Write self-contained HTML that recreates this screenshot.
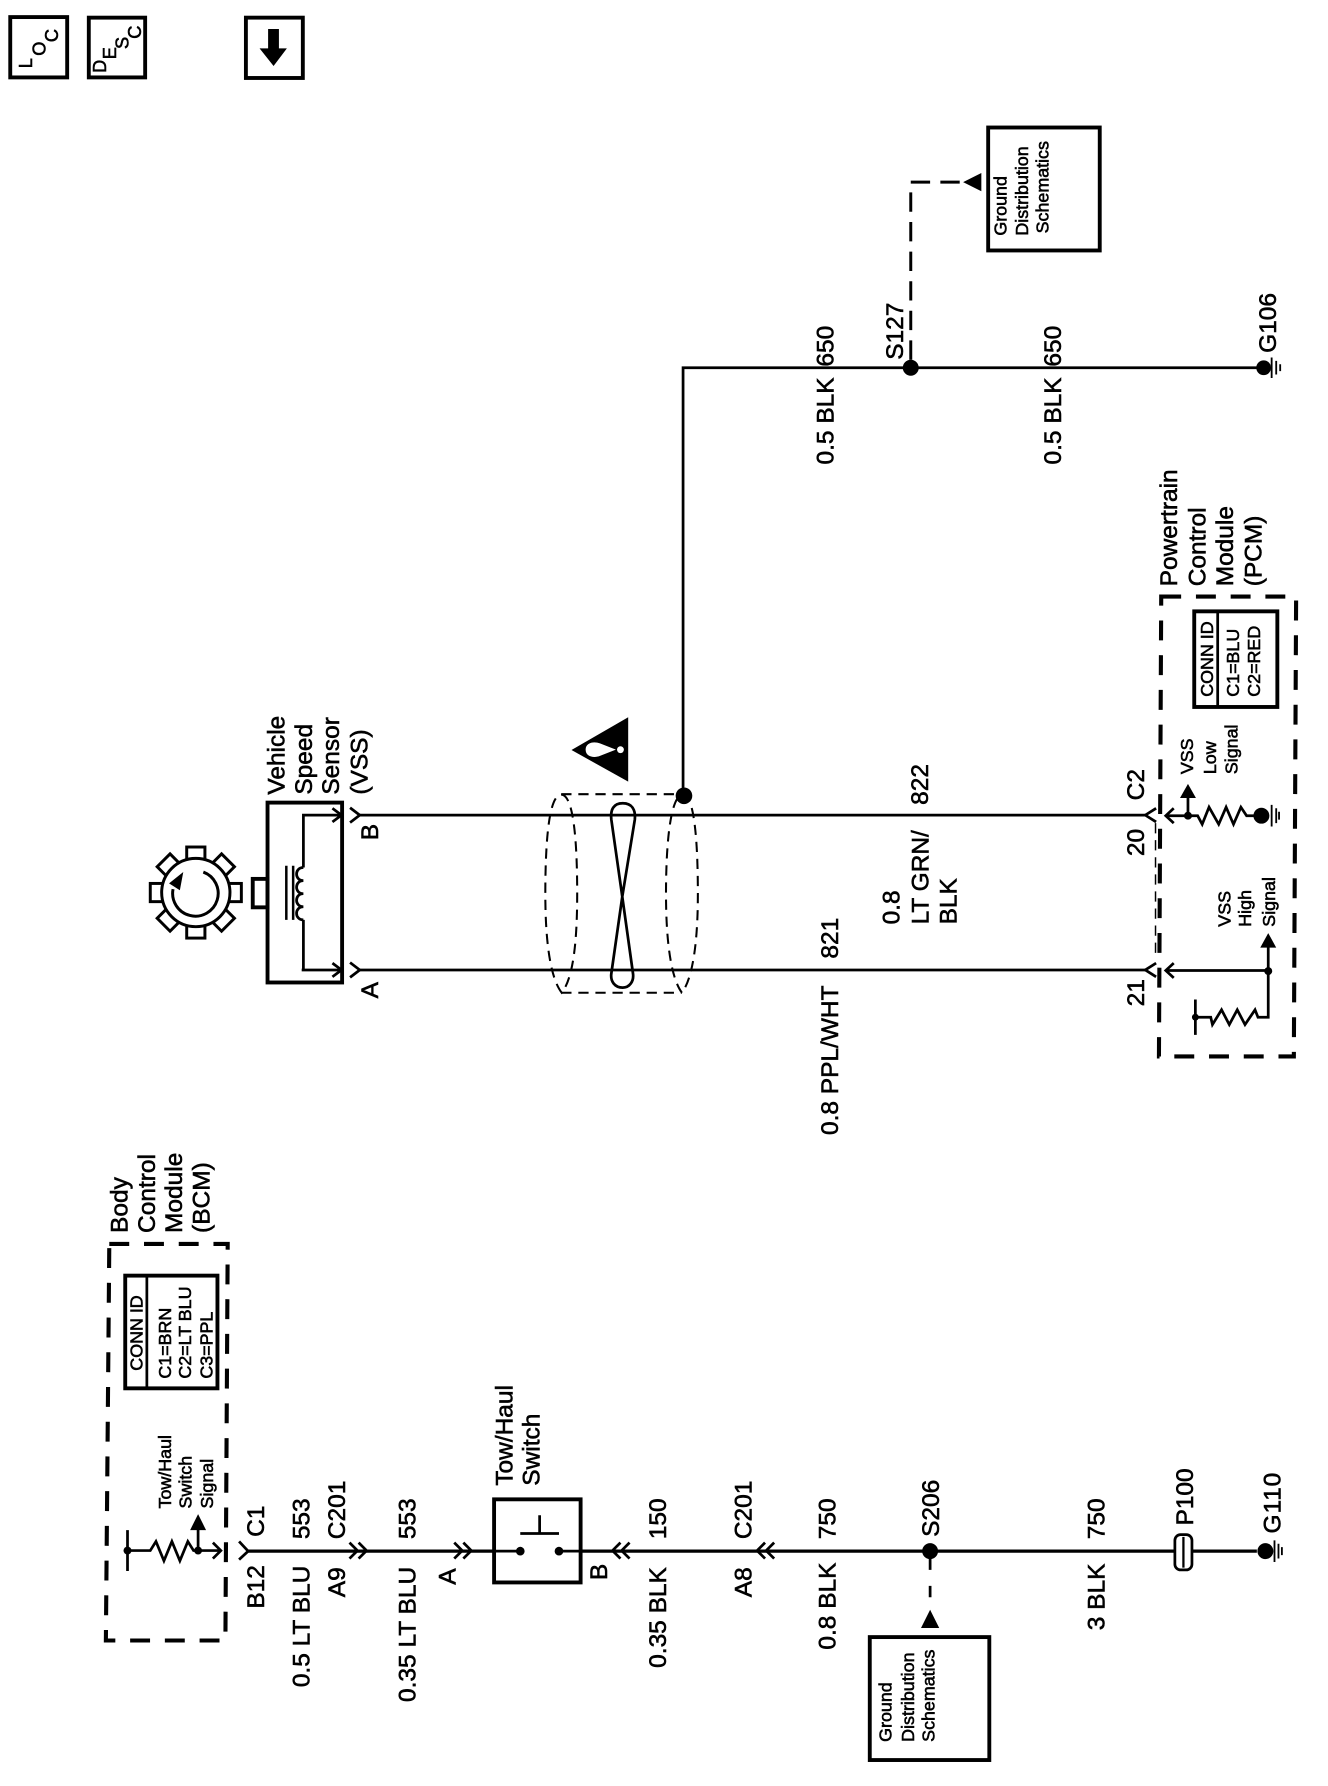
<!DOCTYPE html>
<html><head><meta charset="utf-8"><title>Vehicle Speed Sensor schematic</title>
<style>
html,body{margin:0;padding:0;background:#fff}
svg{display:block}
text{font-family:"Liberation Sans",sans-serif;fill:#000;stroke:#000;stroke-width:.5}
.t{font-size:21.5px}.s{font-size:15.7px}
.w{fill:none;stroke:#000;stroke-width:2.4}
.b{fill:none;stroke:#000;stroke-width:3.4}
.d{fill:none;stroke:#000;stroke-width:3.6;stroke-dasharray:17.5 13}
.e{fill:none;stroke:#000;stroke-width:1.8;stroke-dasharray:9 6}
.f{fill:#000;stroke:none}
</style></head><body>
<svg width="1328" height="1786" viewBox="0 0 1166.5 1568.8" xmlns="http://www.w3.org/2000/svg">
<rect width="1166.5" height="1568.8" fill="#fff"/>
<!-- top-left buttons -->
<rect class="b" x="9" y="15" width="50" height="53"/>
<rect class="b" x="78" y="15.500" width="49.500" height="52.500"/>
<rect class="b" x="216" y="15.500" width="50" height="53"/>
<g style="font-size:16px">
<text transform="rotate(-90 28 60)" x="28" y="60">L</text>
<text transform="rotate(-90 40 49)" x="40" y="49">O</text>
<text transform="rotate(-90 51 37)" x="51" y="37">C</text>
<text transform="rotate(-90 93 64)" x="93" y="64">D</text>
<text transform="rotate(-90 102 52)" x="102" y="52">E</text>
<text transform="rotate(-90 113 43)" x="113" y="43">S</text>
<text transform="rotate(-90 124 34)" x="124" y="34">C</text>
</g>
<path class="f" d="M235.500 25.500H245V42.500H252L240.300 58L228 42.500H235.500Z"/>

<!-- ground wire -->
<path class="w" d="M600 698V323H1108"/>
<circle class="f" cx="600.800" cy="699" r="7.300"/>
<circle class="f" cx="800" cy="323" r="7"/>
<circle class="f" cx="1110" cy="323" r="6.500"/>
<path class="w" style="stroke-width:1.600" d="M1117 314V332M1121 317V329M1124.500 320V326"/>
<path class="b" style="stroke-width:2.600;stroke-dasharray:17 9" d="M800 316V160H845"/>
<path class="f" d="M846 160L862 152V168Z"/>
<rect class="b" x="868" y="112" width="98" height="108"/>
<text class="s" transform="rotate(-90 884 207)" x="884" y="207">Ground</text>
<text class="s" transform="rotate(-90 903 207)" x="903" y="207">Distribution</text>
<text class="s" transform="rotate(-90 921 205)" x="921" y="205">Schematics</text>
<text class="t" transform="rotate(-90 732 408)" x="732" y="408">0.5 BLK</text>
<text class="t" transform="rotate(-90 732 322)" x="732" y="322">650</text>
<text class="t" transform="rotate(-90 932 408)" x="932" y="408">0.5 BLK</text>
<text class="t" transform="rotate(-90 932 322)" x="932" y="322">650</text>
<text class="t" transform="rotate(-90 793 316)" x="793" y="316">S127</text>
<text class="t" transform="rotate(-90 1121 310)" x="1121" y="310">G106</text>

<!-- VSS -->
<rect class="b" x="235" y="705" width="65.500" height="158"/>
<rect class="b" x="222" y="772" width="13" height="25"/>
<path class="w" d="M299 716H266.500V762M266.500 808V852H265H299"/>
<path class="w" d="M266.500 762c-8 0-8 11.500 0 11.500c-8 0-8 11.500 0 11.500c-8 0-8 11.500 0 11.500c-8 0-8 11.500 0 11.500"/>
<path class="w" style="stroke-width:2.200" d="M251.500 760.500V808M257.500 760.500V808"/>
<path class="w" d="M292 710L300 716L292 722M292 846L300 852L292 858"/>
<path class="w" d="M316 716H1006M316 852H1006"/>
<path class="w" d="M307.500 709.500L316 716L307.500 722.500M307.500 845.500L316 852L307.500 858.500"/>
<text class="t" transform="rotate(-90 250 698)" x="250" y="698">Vehicle</text>
<text class="t" transform="rotate(-90 274 698)" x="274" y="698">Speed</text>
<text class="t" transform="rotate(-90 298 698)" x="298" y="698">Sensor</text>
<text class="t" transform="rotate(-90 323 698)" x="323" y="698">(VSS)</text>
<text class="t" transform="rotate(-90 332 738)" x="332" y="738">B</text>
<text class="t" transform="rotate(-90 332 877)" x="332" y="877">A</text>
<!-- gear -->
<g style="fill:#fff;stroke:#000;stroke-width:2.600">
<rect x="164" y="744" width="16" height="12" transform="rotate(0 172 784)"/>
<rect x="164" y="744" width="16" height="12" transform="rotate(45 172 784)"/>
<rect x="164" y="744" width="16" height="12" transform="rotate(90 172 784)"/>
<rect x="164" y="744" width="16" height="12" transform="rotate(135 172 784)"/>
<rect x="164" y="744" width="16" height="12" transform="rotate(180 172 784)"/>
<rect x="164" y="744" width="16" height="12" transform="rotate(225 172 784)"/>
<rect x="164" y="744" width="16" height="12" transform="rotate(270 172 784)"/>
<rect x="164" y="744" width="16" height="12" transform="rotate(315 172 784)"/>
<circle cx="172" cy="784" r="30"/>
</g>
<path class="w" style="stroke-width:2.600" d="M178.600 766A20 20 0 1 1 152 781"/>
<path class="f" d="M161 766L148.500 776L158 782Z"/>

<!-- shield & twist -->
<path class="e" d="M493 697.600H596M493 872H599"/>
<path class="e" d="M493.400 872C484 860 479 830 479 785C479 740 482 698 493 698C504 698 507 740 507 785C507 830 503 860 493.400 872Z"/>
<path class="e" d="M599 872C590 860 585 830 585 785C585 740 589 698 600 698C610 698 613 740 613 785C613 830 608 860 599 872Z"/>
<path class="w" d="M547 705.600C539 705.600 536 711 537 720L546.600 787.600L556 855C557 862 553 867.500 547 867.500C540 867.500 536 862 537 855L546.600 787.600L557.600 720C558.500 711 555 705.600 547 705.600Z"/>
<path class="f" d="M502 658.800L551.800 630V686.600Z"/>
<path fill="#fff" d="M514.400 658.500C514.400 652 522 651 527 653L541 658.500L527 664C522 666 514.400 665 514.400 658.500Z"/>
<circle cx="545" cy="658.500" r="3" fill="#fff"/>
<text class="t" transform="rotate(-90 736 997)" x="736" y="997">0.8 PPL/WHT</text>
<text class="t" transform="rotate(-90 736 842)" x="736" y="842">821</text>
<text class="t" transform="rotate(-90 815 707)" x="815" y="707">822</text>
<text class="t" transform="rotate(-90 790 812)" x="790" y="812">0.8</text>
<text class="t" transform="rotate(-90 815.500 812)" x="815.500" y="812">LT GRN/</text>
<text class="t" transform="rotate(-90 840 812)" x="840" y="812">BLK</text>

<!-- PCM -->
<path class="d" d="M1020 524H1138.500L1136.500 928H1018Z"/>
<text class="t" transform="rotate(-90 1034 515)" x="1034" y="515">Powertrain</text>
<text class="t" transform="rotate(-90 1059 515)" x="1059" y="515">Control</text>
<text class="t" transform="rotate(-90 1083 515)" x="1083" y="515">Module</text>
<text class="t" transform="rotate(-90 1108 515)" x="1108" y="515">(PCM)</text>
<rect class="b" x="1049" y="537" width="73" height="84"/>
<path class="w" d="M1069.600 537V621"/>
<text class="s" transform="rotate(-90 1065.600 612)" x="1065.600" y="612">CONN ID</text>
<text class="s" transform="rotate(-90 1088.400 612)" x="1088.400" y="612">C1=BLU</text>
<text class="s" transform="rotate(-90 1106.800 612)" x="1106.800" y="612">C2=RED</text>
<text class="t" transform="rotate(-90 1005 703)" x="1005" y="703">C2</text>
<text class="t" transform="rotate(-90 1005 752)" x="1005" y="752">20</text>
<text class="t" transform="rotate(-90 1005 884)" x="1005" y="884">21</text>
<path class="w" d="M1015.500 710L1006 716L1015.500 722M1015.500 846L1006 852L1015.500 858"/>
<path class="w" d="M1031 710L1024 716.500L1031 723M1031 846L1024 852.500L1031 859"/>
<path class="e" style="stroke-width:1.300" d="M1015 723V840"/>
<path class="w" d="M1024 716.500H1052L1056 724L1062 709L1070.500 724L1077 709L1083.500 724L1090 709L1095 716.500H1103"/>
<circle class="f" cx="1043.500" cy="716.500" r="3.500"/>
<path class="w" d="M1043.500 716.500V698"/>
<path class="f" d="M1043.500 688.500L1036.500 701H1050.500Z"/>
<circle class="f" cx="1108" cy="716.500" r="7"/>
<path class="w" style="stroke-width:1.600" d="M1117 707V726M1121 710V723M1123.500 713V720"/>
<text class="s" transform="rotate(-90 1048 680)" x="1048" y="680">VSS</text>
<text class="s" transform="rotate(-90 1068 680)" x="1068" y="680">Low</text>
<text class="s" transform="rotate(-90 1087 680)" x="1087" y="680">Signal</text>
<path class="w" d="M1024 852.500H1114V893.500H1105L1102.400 887L1093.600 900L1086.800 887L1079.800 900L1073 887L1065 900L1063.500 893.500H1050M1050 878V909"/>
<circle class="f" cx="1114" cy="853" r="3.500"/>
<circle class="f" cx="1050" cy="893.500" r="3"/>
<path class="f" d="M1114 819.600L1107 832.400H1121Z"/>
<path class="w" d="M1114 832V853"/>
<text class="s" transform="rotate(-90 1081 814)" x="1081" y="814">VSS</text>
<text class="s" transform="rotate(-90 1099 814)" x="1099" y="814">High</text>
<text class="s" transform="rotate(-90 1120 814)" x="1120" y="814">Signal</text>

<!-- BCM -->
<path class="d" d="M96 1092.700H200L198 1441H93Z"/>
<text class="t" transform="rotate(-90 112 1083)" x="112" y="1083">Body</text>
<text class="t" transform="rotate(-90 136 1083)" x="136" y="1083">Control</text>
<text class="t" transform="rotate(-90 160 1083)" x="160" y="1083">Module</text>
<text class="t" transform="rotate(-90 184 1083)" x="184" y="1083">(BCM)</text>
<rect class="b" x="110" y="1120.500" width="81" height="99"/>
<path class="w" d="M129 1120.500V1219.500"/>
<text class="s" transform="rotate(-90 125.300 1204)" x="125.300" y="1204">CONN ID</text>
<text class="s" transform="rotate(-90 150 1211)" x="150" y="1211">C1=BRN</text>
<text class="s" transform="rotate(-90 167.800 1211)" x="167.800" y="1211">C2=LT BLU</text>
<text class="s" transform="rotate(-90 186.800 1211)" x="186.800" y="1211">C3=PPL</text>
<text class="s" transform="rotate(-90 150 1325)" x="150" y="1325">Tow/Haul</text>
<text class="s" transform="rotate(-90 168.400 1325)" x="168.400" y="1325">Switch</text>
<text class="s" transform="rotate(-90 187 1325)" x="187" y="1325">Signal</text>
<path class="w" d="M112 1344V1380M112 1362H132L137 1354L144 1371L151 1354L158 1371L165 1354L170 1362H193M187 1355L194 1362L187 1369"/>
<circle class="f" cx="112" cy="1362" r="3.500"/>
<circle class="f" cx="174" cy="1362" r="3.500"/>
<path class="w" d="M174 1362V1342"/>
<path class="f" d="M174 1330L167 1344H181Z"/>

<!-- bottom harness -->
<path class="w" style="stroke-width:2.800" d="M218 1362.500H457M491 1362.500H1104"/>
<path class="w" d="M210 1354L218 1362.500L210 1370"/>
<path class="w" d="M307 1355L314 1362L307 1369M315 1355L322 1362L315 1369"/>
<path class="w" d="M399 1355L406 1362L399 1369M407 1355L414 1362L407 1369"/>
<path class="w" d="M545 1355L538 1362L545 1369M553 1355L546 1362L553 1369"/>
<path class="w" d="M672 1355L665 1362L672 1369M680 1355L673 1362L680 1369"/>
<text class="t" transform="rotate(-90 232 1413)" x="232" y="1413">B12</text>
<text class="t" transform="rotate(-90 232 1350)" x="232" y="1350">C1</text>
<text class="t" transform="rotate(-90 272 1482)" x="272" y="1482">0.5 LT BLU</text>
<text class="t" transform="rotate(-90 272 1352)" x="272" y="1352">553</text>
<text class="t" transform="rotate(-90 303 1403)" x="303" y="1403">A9</text>
<text class="t" transform="rotate(-90 303 1352)" x="303" y="1352">C201</text>
<text class="t" transform="rotate(-90 365 1495)" x="365" y="1495">0.35 LT BLU</text>
<text class="t" transform="rotate(-90 365 1352)" x="365" y="1352">553</text>
<text class="t" transform="rotate(-90 400 1392)" x="400" y="1392">A</text>
<rect x="434" y="1317" width="76" height="73" fill="#fff" stroke="#000" stroke-width="3.400"/>
<path class="w" d="M434 1362.500H457M491 1362.500H510M457 1347H491M474 1347V1331"/>
<circle class="f" cx="457" cy="1362.500" r="3.800"/>
<circle class="f" cx="491" cy="1362.500" r="3.800"/>
<text class="t" transform="rotate(-90 450 1305)" x="450" y="1305">Tow/Haul</text>
<text class="t" transform="rotate(-90 474 1305)" x="474" y="1305">Switch</text>
<text class="t" transform="rotate(-90 533 1388)" x="533" y="1388">B</text>
<text class="t" transform="rotate(-90 585 1465)" x="585" y="1465">0.35 BLK</text>
<text class="t" transform="rotate(-90 585 1352)" x="585" y="1352">150</text>
<text class="t" transform="rotate(-90 660 1403)" x="660" y="1403">A8</text>
<text class="t" transform="rotate(-90 660 1352)" x="660" y="1352">C201</text>
<text class="t" transform="rotate(-90 734 1449)" x="734" y="1449">0.8 BLK</text>
<text class="t" transform="rotate(-90 734 1352)" x="734" y="1352">750</text>
<circle class="f" cx="817" cy="1362.500" r="7"/>
<text class="t" transform="rotate(-90 825 1350)" x="825" y="1350">S206</text>
<path class="b" style="stroke-width:2.400;stroke-dasharray:10 14" d="M817 1369V1418"/>
<path class="f" d="M817 1414L809 1430H825Z"/>
<rect class="b" x="764" y="1438" width="105" height="108"/>
<text class="s" transform="rotate(-90 783 1530)" x="783" y="1530">Ground</text>
<text class="s" transform="rotate(-90 803 1530)" x="803" y="1530">Distribution</text>
<text class="s" transform="rotate(-90 821 1530)" x="821" y="1530">Schematics</text>
<text class="t" transform="rotate(-90 970 1432)" x="970" y="1432">3 BLK</text>
<text class="t" transform="rotate(-90 970 1352)" x="970" y="1352">750</text>
<rect x="1032" y="1348" width="15" height="31" rx="5" fill="#fff" stroke="#000" stroke-width="2.400"/>
<path class="w" style="stroke-width:2" d="M1039.500 1350V1377"/>
<text class="t" transform="rotate(-90 1048 1340)" x="1048" y="1340">P100</text>
<circle class="f" cx="1111.500" cy="1362.500" r="7"/>
<path class="w" style="stroke-width:1.600" d="M1119.500 1353V1372M1123 1356V1369M1126 1359V1366"/>
<text class="t" transform="rotate(-90 1125 1347)" x="1125" y="1347" style="letter-spacing:.8px">G110</text>
</svg>
</body></html>
